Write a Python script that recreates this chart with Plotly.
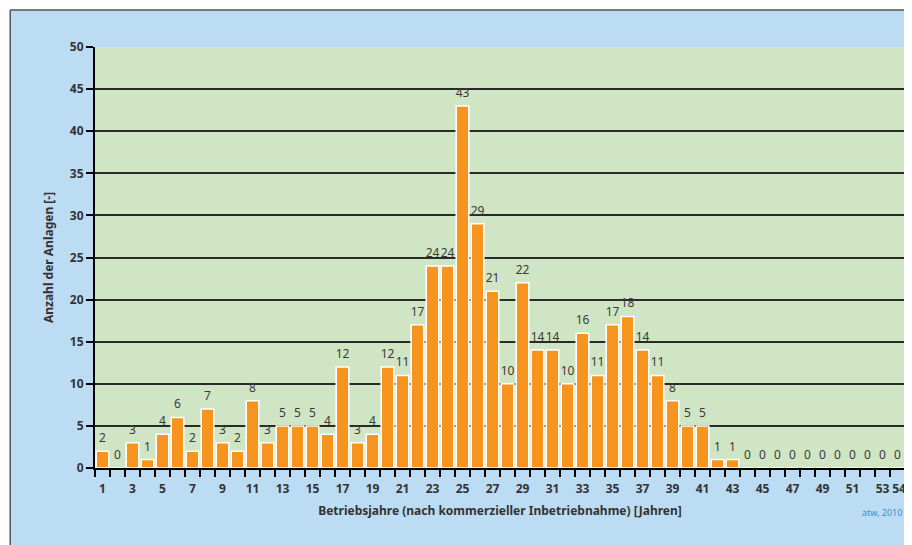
import plotly.graph_objects as go

years = list(range(1, 55))
counts = [2, 0, 3, 1, 4, 6, 2, 7, 3, 2, 8, 3, 5, 5, 5, 4, 12, 3, 4, 12,
          11, 17, 24, 24, 43, 29, 21, 10, 22, 14, 14, 10, 16, 11, 17, 18, 14, 11, 8, 5,
          5, 1, 1, 0, 0, 0, 0, 0, 0, 0, 0, 0, 0, 0]
x_tickvals = list(range(1, 54, 2)) + [54]
x_ticktext = [str(v) for v in range(1, 54, 2)] + ["\u00a054"]
y_tickvals = list(range(0, 51, 5))

x_title = "Betriebsjahre (nach kommerzieller Inbetriebnahme) [Jahren]"
y_title = "Anzahl der Anlagen [-]"
source = "atw, 2010"

# page body has an 8px margin; figure coordinates are offset by it
OFF = 8
W, H = 912 - OFF, 545 - OFF
ML, MR, MT, MB = 87, 5, 39, 77
PW, PH = W - ML - MR, H - MT - MB

def px(xp):
    return (xp - ML) / PW

def py(yp):
    return (H - MB - yp) / PH

FONT = "Noto Sans"

fig = go.Figure()
fig.add_trace(go.Bar(
    x=years, y=counts,
    marker=dict(color="#f7941d", line=dict(color="white", width=1.5)),
    width=0.84, hoverinfo="x+y",
))
fig.add_trace(go.Scatter(
    x=years, y=counts, mode="markers+text", text=[str(c) for c in counts],
    marker=dict(size=8, color="rgba(0,0,0,0)"),
    textposition="top center", cliponaxis=False, hoverinfo="skip",
    textfont=dict(family=FONT, size=12, color="#3a3a3a"),
))

fig.update_layout(
    width=W, height=H,
    margin=dict(l=ML, r=MR, t=MT, b=MB),
    paper_bgcolor="#bcdcf3",
    plot_bgcolor="#d0e5c4",
    showlegend=False,
    font=dict(family=FONT, color="#333"),
    xaxis=dict(
        range=[0.5, 54.5], tickmode="array", tickvals=x_tickvals,
        ticktext=x_ticktext, ticks="", showgrid=False,
        tickangle=0,
        tickfont=dict(family=FONT, size=12, color="#333", weight="bold"),
        ticklabelstandoff=9,
        showline=True, linecolor="black", linewidth=2,
        minor=dict(tickmode="linear", tick0=0.5, dtick=1, ticks="outside",
                   ticklen=7, tickcolor="black", tickwidth=2, showgrid=False),
        title=dict(text=x_title, standoff=10,
                   font=dict(family=FONT, size=12, color="#333", weight="bold")),
        zeroline=False,
    ),
    yaxis=dict(
        range=[0, 50], tickmode="array", tickvals=y_tickvals,
        ticks="outside", ticklen=7, tickcolor="black", tickwidth=2,
        tickfont=dict(family=FONT, size=12, color="#333", weight="bold"),
        showgrid=True, gridcolor="#2a2a2a", gridwidth=2,
        showline=True, linecolor="black", linewidth=2, mirror=True,
        zeroline=False,
        title=dict(text=y_title, standoff=14,
                   font=dict(family=FONT, size=12, color="#333", weight="bold")),
    ),
    shapes=[
        dict(type="rect", xref="paper", yref="paper", x0=px(-2), x1=px(W + 2), y0=py(2), y1=py(-2),
             fillcolor="white", line=dict(width=0), layer="above"),
        dict(type="rect", xref="paper", yref="paper", x0=px(-2), x1=px(2), y0=py(H + 2), y1=py(-2),
             fillcolor="white", line=dict(width=0), layer="above"),
        dict(type="line", xref="paper", yref="paper", x0=px(2), x1=px(W + 2), y0=py(2), y1=py(2),
             line=dict(color="#555", width=1.5)),
        dict(type="line", xref="paper", yref="paper", x0=px(2), x1=px(2), y0=py(2), y1=py(H + 2),
             line=dict(color="#555", width=1.5)),
    ],
    annotations=[
        dict(text=source, xref="paper", yref="paper", x=px(876), y=py(505),
             xanchor="center", yanchor="middle",
             showarrow=False, font=dict(family=FONT, size=9, color="#3a8fd0")),
    ],
)

fig.write_html("out.html")
